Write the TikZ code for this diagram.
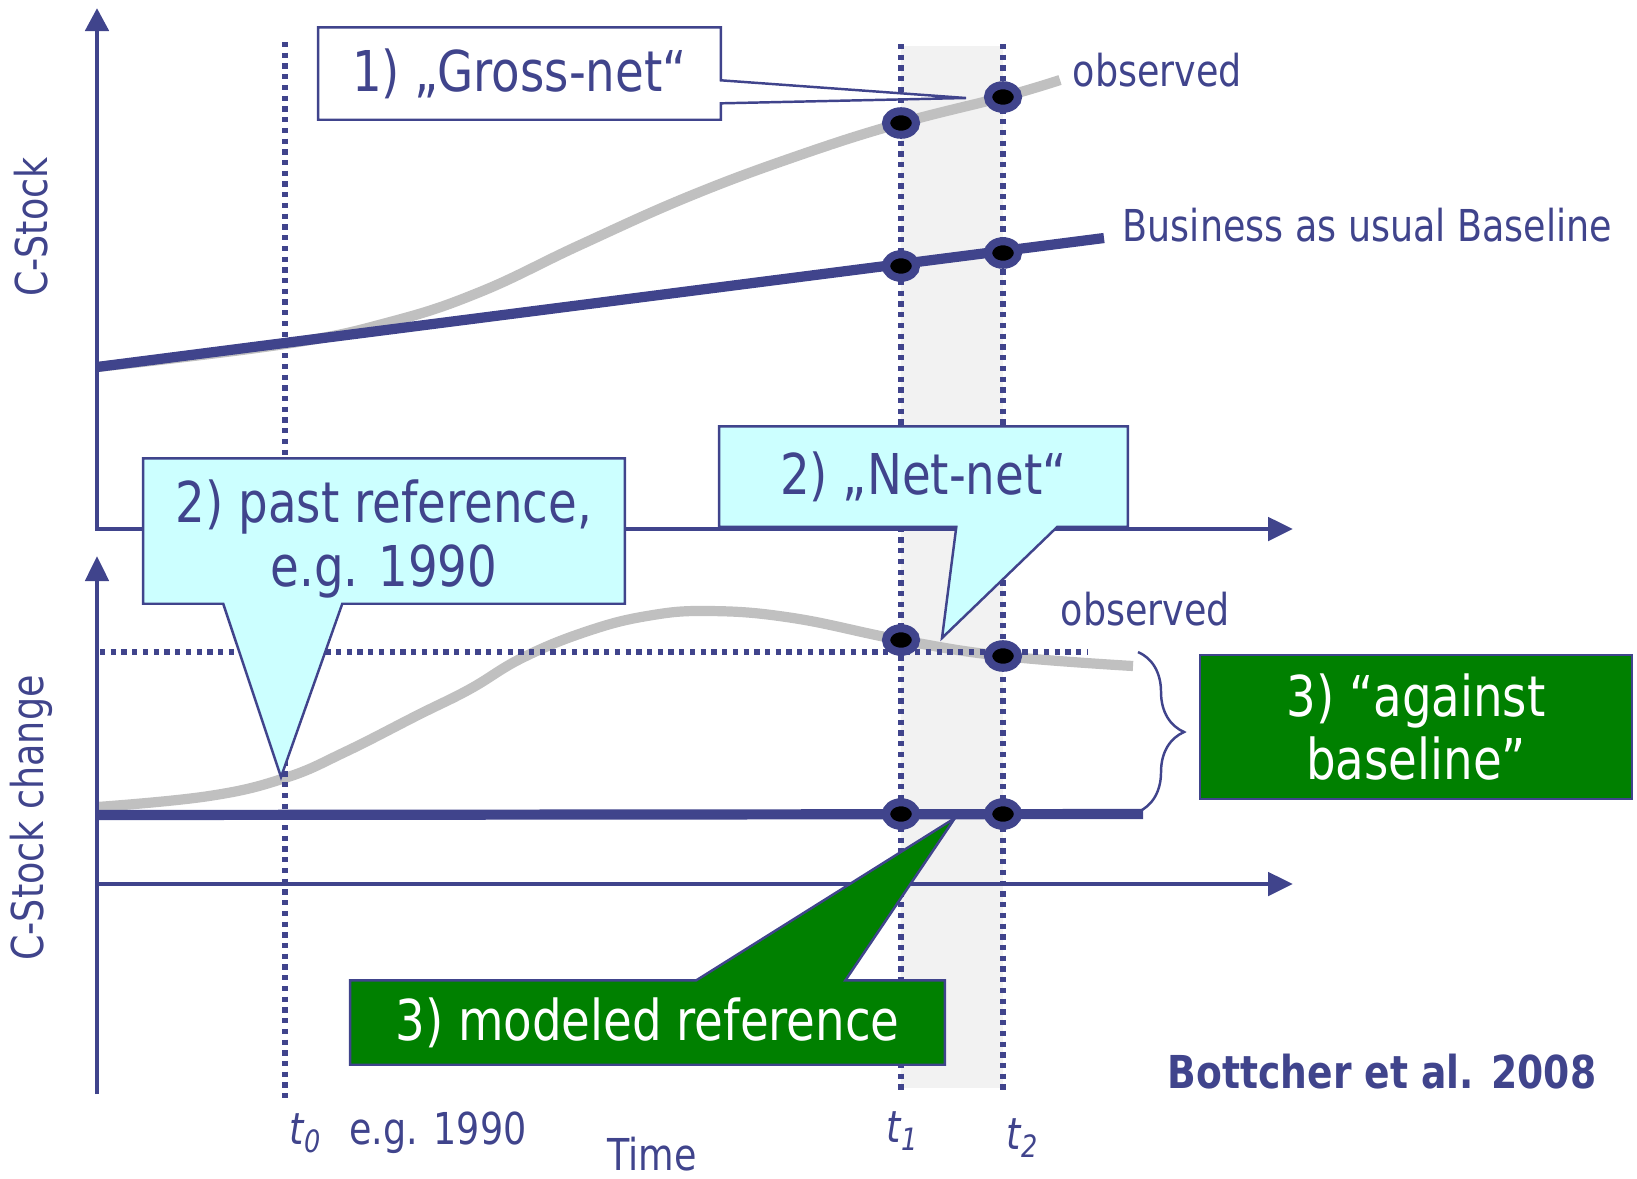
\documentclass[tikz,border=0pt]{standalone}
\usepackage{fontspec}
\setmainfont{DejaVu Sans}[FakeStretch=0.83]
\definecolor{axisblue}{RGB}{64,68,140}
\definecolor{obsgray}{RGB}{192,192,192}
\definecolor{calloutcyan}{RGB}{204,255,255}
\definecolor{refgreen}{RGB}{0,128,0}
\definecolor{bandgray}{RGB}{242,242,242}
\usetikzlibrary{shapes.geometric, arrows.meta, calc, decorations.pathreplacing}

\begin{document}
\begin{tikzpicture}[x=0.01cm, y=-0.01cm,
    axisline/.style={axisblue, line width=1.4pt},
    axistip/.style={-{Triangle[length=0.25cm, width=0.23cm]}},
    dotline/.style={axisblue, line width=1.6pt, dash pattern=on 1.5pt off 1.55pt},
    obscurve/.style={obsgray, line width=2.9pt},
    bauline/.style={axisblue, line width=2.9pt},
    ptdot/.style={ellipse, draw=axisblue, fill=black, line width=2.3pt,
                  minimum width=0.30cm, minimum height=0.235cm, inner sep=0pt},
    lbl/.style={text=axisblue, inner sep=0pt, font=\fontsize{12.5}{15}\selectfont},
    boxtxt/.style={text=axisblue, inner sep=0pt, align=center,
                   font=\fontsize{16}{18}\selectfont},
    calloutline/.style={draw=axisblue, line width=0.7pt},
    holder/.style={inner sep=0pt}
]
    \useasboundingbox (0,0) rectangle (1637,1178);

    % Period between t1 and t2
    \fill[bandgray] (901,46) rectangle (1003,1088);

    % Observed curves
    \draw[obscurve] plot[smooth, tension=0.7] coordinates {(97,367) (285,344) (390,322)
        (480,292) (580,245) (690,196) (800,155) (901,123) (1003,97) (1060,80)};
    \draw[obscurve] plot[smooth, tension=0.7] coordinates {(97,807) (209,796) (285,778)
        (345,752) (418,715) (470,689) (522,658) (585,632) (647,616) (710,611)
        (793,618) (901,640) (1003,656) (1133,666)};

    % Time markers t0, t1, t2
    \foreach \x/\top/\bot in {285/42/1101, 901/44/1091, 1003/44/1091} {
        \draw[dotline] (\x,\top) -- (\x,\bot);
    }
    \draw[dotline] (100,652) -- (1087,652);

    % Axes
    \draw[axisline, {Triangle[length=0.23cm, width=0.23cm]}-{Triangle[length=0.25cm, width=0.23cm]}]
        (97,8) |- (1293,529);
    \draw[axisline, axistip] (97,1094) -- (97,556);
    \draw[axisline, axistip] (97,884) -- (1293,884);

    % Business as usual baseline
    \draw[bauline] (97,367) -- (1104,238);

    % Callout 1) Gross-net
    \coordinate (grossTip) at (966,98);
    \node[holder, minimum width=4.01cm, minimum height=0.91cm] (gross) at (519.5,73.5) {};
    \filldraw[calloutline, fill=white] (gross.north west) -- (gross.north east)
        -- ([yshift=-0.53cm]gross.north east) -- (grossTip)
        -- ([yshift=-0.76cm]gross.north east) -- (gross.south east)
        -- (gross.south west) -- cycle;
    \node[boxtxt] (grossText) at (gross) {1) „Gross-net“};

    % Callout 2) past reference
    \coordinate (pastTip) at (281,777);
    \node[holder, minimum width=4.80cm, minimum height=1.44cm] (past) at (384,531) {};
    \filldraw[calloutline, fill=calloutcyan] (past.north west) -- (past.north east)
        -- (past.south east) -- ([xshift=1.99cm]past.south west) -- (pastTip)
        -- ([xshift=0.80cm]past.south west) -- (past.south west) -- cycle;
    \node[boxtxt] (pastText) at (384,539) {2) past reference,\\e.g. 1990};

    % Callout 2) Net-net
    \coordinate (netTip) at (942,638);
    \node[holder, minimum width=4.07cm, minimum height=0.99cm] (net) at (923.5,476.5) {};
    \filldraw[calloutline, fill=calloutcyan] (net.north west) -- (net.north east)
        -- (net.south east) -- ([xshift=3.38cm]net.south west) -- (netTip)
        -- ([xshift=2.37cm]net.south west) -- (net.south west) -- cycle;
    \node[boxtxt] (netText) at (net) {2) „Net-net“};

    % Callout 3) modeled reference
    \coordinate (modTip) at (955,818);
    \node[holder, minimum width=5.93cm, minimum height=0.83cm] (mod) at (647.5,1022.5) {};
    \filldraw[calloutline, fill=refgreen] (mod.north west) -- ([xshift=3.46cm]mod.north west)
        -- (modTip) -- ([xshift=4.95cm]mod.north west) -- (mod.north east)
        -- (mod.south east) -- (mod.south west) -- cycle;
    \node[boxtxt, text=white] (modText) at (mod) {3) modeled reference};

    % Modeled baseline
    \draw[bauline] (97,815) -- (1143,814);

    % Brace and box 3) against baseline
    \draw[axisblue, line width=0.7pt, decorate, decoration={brace, amplitude=0.46cm}]
        (1138,652) -- (1138,812);
    \node[boxtxt, draw=axisblue, line width=0.7pt, fill=refgreen, text=white,
          minimum width=4.32cm, minimum height=1.44cm] (against) at (1416,727)
        {3) “against\\baseline”};

    % Points at t1 and t2
    \foreach \x/\y [count=\i] in {901/123, 1003/97, 901/266, 1003/253,
                                  901/640, 1003/656, 901/814, 1003/814} {
        \node[ptdot] (pt\i) at (\x,\y) {};
    }

    % Labels
    \node[lbl, anchor=west] (obsUp) at (1072,70) {observed};
    \node[lbl, anchor=west] (bau) at (1122,225) {Business as usual Baseline};
    \node[lbl, anchor=west] (obsLow) at (1060,609) {observed};
    \node[lbl, rotate=90] (yUp) at (31,227) {C-Stock};
    \node[lbl, rotate=90] (yLow) at (31,818) {C-Stock change};
    \node[lbl] (tZero) at (306,1133) {\itshape t\textsubscript{0}};
    \node[lbl] (tZeroYear) at (438,1133) {e.g. 1990};
    \node[lbl] (tOne) at (903,1131) {\itshape t\textsubscript{1}};
    \node[lbl] (tTwo) at (1023,1138) {\itshape t\textsubscript{2}};
    \node[lbl] (time) at (652,1154) {Time};
    \node[lbl, font=\fontsize{12.9}{15}\selectfont\bfseries] (source) at (1382,1072)
        {Bottcher et al. 2008};
\end{tikzpicture}
\end{document}
